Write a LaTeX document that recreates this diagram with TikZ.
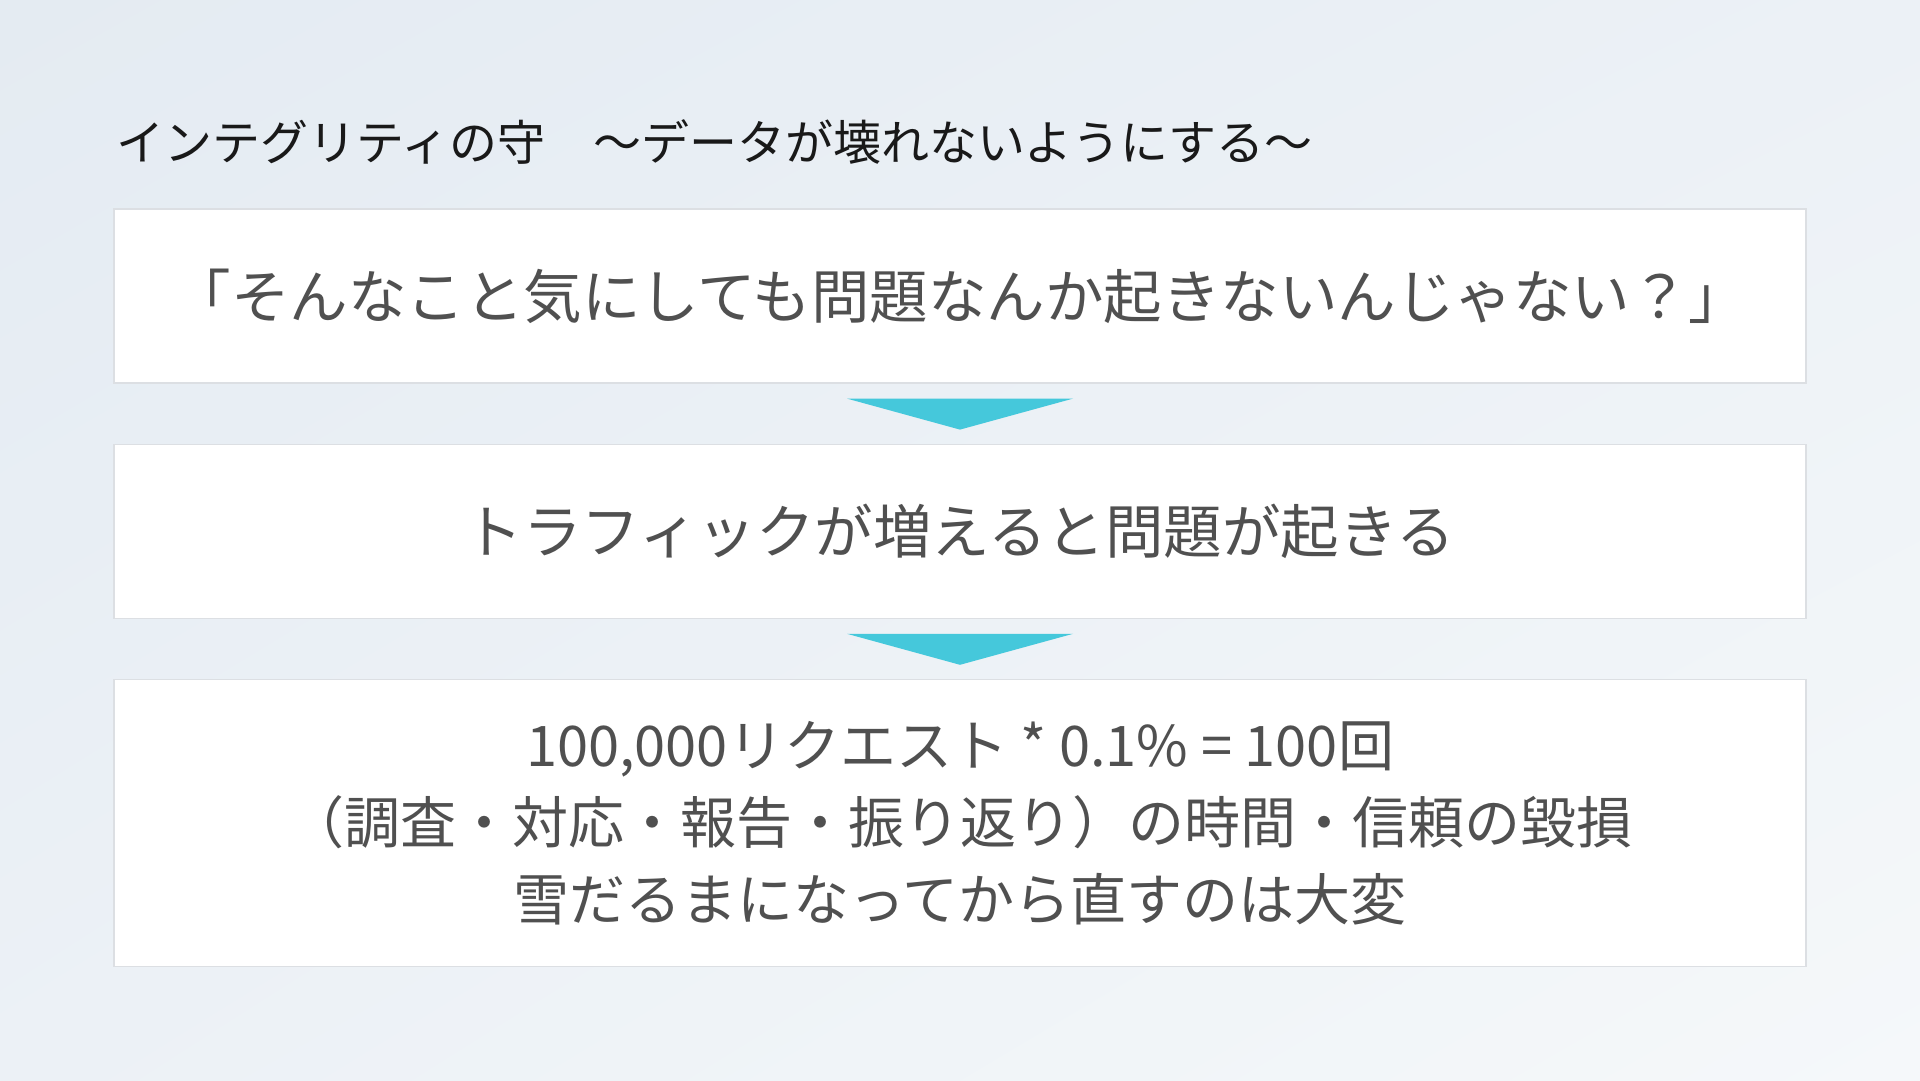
\documentclass[tikz,border=0pt]{standalone}
\usepackage{fontspec}
\setmainfont{Noto Sans CJK JP}
\usetikzlibrary{positioning, calc, shadings}
\definecolor{bgtop}{HTML}{E4EBF2}
\definecolor{bgmid}{HTML}{ECF1F6}
\definecolor{bgbot}{HTML}{F5F8FA}
\definecolor{boxline}{HTML}{DCDFE3}
\definecolor{textgray}{HTML}{505050}
\definecolor{arrowcyan}{HTML}{45C8DB}
\tikzset{
x=1pt, y=-1pt, % one unit is one pixel of the slide, y runs downwards
node distance=60pt, % gap between the boxes
msgbox/.style={draw=boxline, line width=1.2pt, fill=white, minimum width=1692pt, minimum height=174pt, inner sep=0pt, text=textgray, align=center, font=\fontsize{58.5}{78}\selectfont}, % sets the look of each white box
downarrow/.style={fill=arrowcyan, draw=none}, % the cyan triangles between the boxes
}

\begin{document}
\begin{tikzpicture}
        \useasboundingbox (0,0) rectangle (1920,1080);
        \shade[upper left=bgtop, upper right=bgmid, lower left=bgmid, lower right=bgbot] (0,0) rectangle (1920,1080);

        \node[anchor=west, inner sep=0pt, text=black!90, font=\fontsize{48}{56}\selectfont] (title) at (116,142) {インテグリティの守　～データが壊れないようにする～};

        \node[msgbox] (doubt) at (960,296) {「そんなこと気にしても問題なんか起きないんじゃない？」};
        \node[msgbox, below=of doubt] (traffic) {トラフィックが増えると問題が起きる};
        \node[msgbox, below=of traffic, minimum height=287pt, font=\fontsize{56}{77}\selectfont] (cost) {100,000リクエスト * 0.1\% = 100回\\（調査・対応・報告・振り返り）の時間・信頼の毀損\\雪だるまになってから直すのは大変};

        \fill[downarrow] ($(doubt.south)+(-113,15)$) -- ($(doubt.south)+(113,15)$) -- ($(doubt.south)+(0,46)$) -- cycle;
        \fill[downarrow] ($(traffic.south)+(-113,15)$) -- ($(traffic.south)+(113,15)$) -- ($(traffic.south)+(0,46)$) -- cycle;
    \end{tikzpicture}
\end{document}
